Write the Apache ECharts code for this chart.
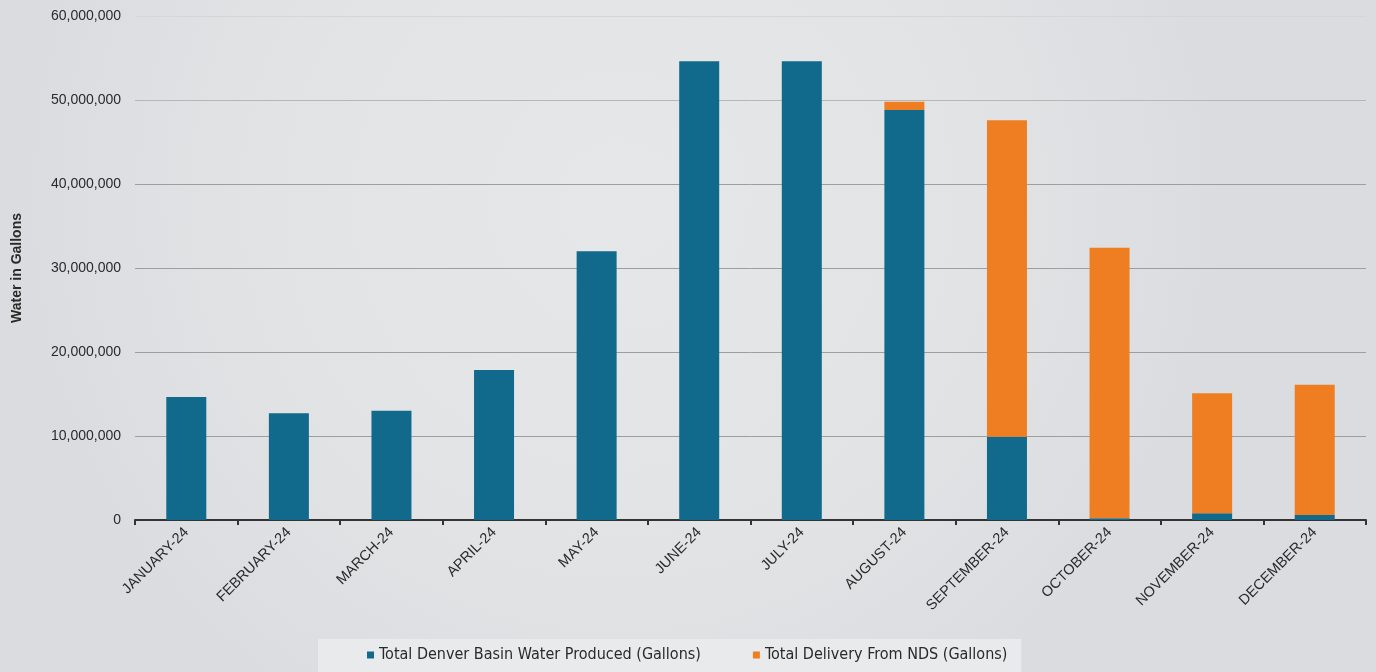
<!DOCTYPE html>
<html><head><meta charset="utf-8">
<script src="https://cdn.jsdelivr.net/npm/echarts@6/dist/echarts.min.js"></script>
<style>html,body{margin:0;padding:0;background:#dfe1e3}#c{width:1376px;height:672px}</style>
</head><body><div id="c"></div>
<script>
const categories = ['JANUARY-24','FEBRUARY-24','MARCH-24','APRIL-24','MAY-24','JUNE-24','JULY-24','AUGUST-24','SEPTEMBER-24','OCTOBER-24','NOVEMBER-24','DECEMBER-24'];
const denverBasin = [14650000, 12700000, 13000000, 17850000, 32000000, 54600000, 54600000, 48800000, 9900000, 200000, 800000, 600000];
const ndsDelivery = [0, 0, 0, 0, 0, 0, 0, 1000000, 37700000, 32200000, 14300000, 15500000];
const yTicks = [0, 10000000, 20000000, 30000000, 40000000, 50000000, 60000000];

const chart = echarts.init(document.getElementById('c'));
chart.setOption({
  backgroundColor: {type:'radial', x:0.45, y:0.3, r:0.9, colorStops:[{offset:0,color:'#e6e7e9'},{offset:0.6,color:'#e1e3e5'},{offset:1,color:'#dadcdf'}]},
  animation: false,
  grid: {left: 135, right: 10, top: 16, bottom: 152},
  legend: {
    bottom: 0, left: 318,
    backgroundColor: '#e9eaec',
    padding: [8, 14, 9, 49],
    itemGap: 52,
    itemWidth: 7, itemHeight: 7,
    icon: 'rect',
    textStyle: {fontFamily: '"Liberation Sans Narrow", "DejaVu Sans Condensed", sans-serif', fontSize: 16, color: '#2a2a2a'}
  },
  xAxis: {
    type: 'category', data: categories,
    axisLine: {lineStyle: {color: '#333', width: 2}},
    axisTick: {show: true, length: 5, lineStyle: {color: '#333', width: 2}},
    axisLabel: {rotate: 45, fontSize: 14.5, color: '#2a2a2a', fontFamily: '"Liberation Sans Narrow", sans-serif', margin: 10, interval: 0}
  },
  yAxis: {
    type: 'value', min: 0, max: 60000000, interval: 10000000,
    name: 'Water in Gallons', nameLocation: 'middle', nameGap: 111, nameRotate: 90,
    nameTextStyle: {fontSize: 14, fontWeight: 'bold', color: '#2a2a2a', fontFamily: '"Liberation Sans Narrow", sans-serif'},
    axisLine: {show: false}, axisTick: {show: false},
    axisLabel: {fontSize: 14, color: '#2a2a2a', margin: 14, fontFamily: 'Liberation Sans, sans-serif',
      formatter: v => yTicks.includes(v) ? v.toLocaleString('en-US') : ''},
    splitLine: {lineStyle: {color: ['#9c9ea0','#9c9ea0','#9c9ea0','#9c9ea0','#9c9ea0','#b4b6b8','#d4d6d8'], width: 1}}
  },
  series: [
    {name: 'Total Denver Basin Water Produced (Gallons)', type: 'bar', stack: 't', data: denverBasin, barWidth: 40, itemStyle: {color: '#11698b'}},
    {name: 'Total Delivery From NDS (Gallons)', type: 'bar', stack: 't', data: ndsDelivery, barWidth: 40, itemStyle: {color: '#ef7e22'}}
  ]
});
</script></body></html>
